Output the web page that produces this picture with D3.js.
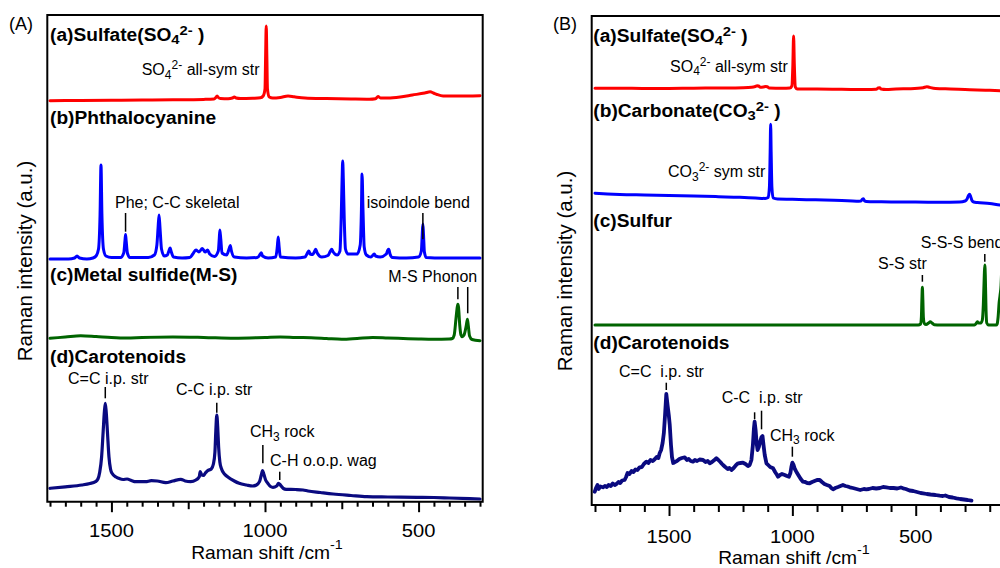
<!DOCTYPE html>
<html><head><meta charset="utf-8">
<script src="https://cdn.jsdelivr.net/npm/d3@7"></script>
<style>
body{margin:0;background:#fff}
svg{display:block;font-family:"Liberation Sans",Arial,Helvetica,sans-serif}
text{white-space:pre}
</style>
</head><body>
<svg id="c" width="1000" height="568"></svg>
<script>
// ---------------- DATA (Raman shift cm-1, intensity a.u.) ----------------
// Panel A
const sulfateA = [[1700,0.3],[1650,0.5],[1600,0.6],[1500,0.8],[1400,1],[1300,1.2],[1200,1.6],[1166,2],[1160,3.5],[1156,5],[1152,3.5],[1145,2.5],[1120,2.3],[1106,3],[1100,4],[1094,3],[1080,2.5],[1040,2.8],[1015,3.2],[1006,5],[1000,12],[998,45],[996,75],[994,45],[992,12],[986,4],[975,3],[950,3.6],[925,5],[905,4.2],[870,3],[800,2.4],[720,2],[660,1.8],[640,2.3],[632,4.5],[624,3],[600,3],[560,4],[520,6],[480,8],[462,9.2],[452,8],[440,6.5],[420,5],[380,5],[340,5],[300,5.2]];
const phthaloA = [[1700,0],[1640,0],[1620,1],[1612,3],[1604,1],[1580,0],[1560,1],[1550,3],[1542,10],[1537,45],[1534,94],[1531,45],[1526,10],[1518,3],[1500,1.5],[1470,1.5],[1460,6],[1456,18],[1454,24.5],[1452,18],[1448,6],[1440,1.5],[1380,1.5],[1360,4],[1352,14],[1348,32],[1345,44],[1342,32],[1337,10],[1328,3],[1318,4],[1312,9],[1309,11],[1305,7],[1298,2],[1270,1],[1245,1.5],[1235,5],[1225,9],[1215,7],[1204,10.5],[1195,7],[1187,9],[1180,5],[1165,2.5],[1152,8],[1149,20],[1147,29],[1144,20],[1140,6],[1125,4],[1116,11],[1113,13.5],[1110,9],[1100,2],[1060,1],[1025,1.5],[1016,4.5],[1012,6.3],[1008,3],[990,1],[965,2],[960,12],[957,22],[954,12],[950,2],[900,1],[870,2],[860,7],[857,8],[853,5],[845,4.5],[838,8],[835,9.7],[830,6],[815,2],[795,3.5],[787,8],[783,9.7],[778,7],[765,4],[756,8],[752,40],[749,80],[747,98],[745,80],[742,40],[738,10],[730,5],[700,5],[690,14],[686,50],[684,85],[681,50],[677,12],[670,4],[655,2],[648,4],[644,5],[640,3],[625,2],[605,5],[600,9],[597,9.7],[593,5],[585,1.5],[540,1],[500,2],[491,8],[488,25],[486,35],[484,25],[481,7],[475,1.5],[420,1],[380,1],[300,1]];
const metalSulfideA = [[1700,1.7],[1650,3],[1600,4.3],[1550,3.5],[1500,2.5],[1450,2],[1400,2.5],[1300,3],[1200,2.5],[1100,1.7],[1000,2.5],[950,3],[900,2.5],[850,2.3],[800,1.5],[750,0.7],[700,1.5],[650,2.5],[600,2],[550,1.5],[500,1],[450,0.7],[400,1],[390,1.5],[384,5],[378,22],[374,33],[372,35.7],[370,33],[366,15],[362,5],[358,3.3],[352,5],[345,14],[341,20.7],[338,14],[334,4],[326,0.5],[300,-0.7]];
const carotenoidsA = [[1700,13.7],[1650,15.2],[1596,17],[1570,18.5],[1552,20.3],[1544,23],[1538,30],[1532,45],[1527,70],[1523,90],[1520,98.7],[1517,90],[1513,70],[1508,45],[1503,33],[1498,28.7],[1485,25],[1476,23.7],[1462,22.5],[1449,23],[1435,21.5],[1421,20.3],[1389,20.3],[1370,21.3],[1351,21],[1323,19.3],[1300,21],[1274,22.7],[1260,21],[1242,20.3],[1225,22],[1214,25.3],[1211,30.3],[1206,27],[1201,26.5],[1194,29],[1187,31.3],[1175,33],[1168,38],[1163,50],[1160,72],[1157,87],[1154,75],[1151,55],[1147,40],[1142,33.5],[1132,28],[1122,25.3],[1100,21],[1084,18.7],[1060,17],[1040,16],[1028,17],[1018,20.3],[1012,27],[1008,31.3],[1004,28],[998,22],[991,18.7],[982,15.5],[974,14.7],[962,16],[956,18.7],[950,17],[940,13.5],[931,12.7],[900,12.5],[876,12],[860,11],[820,9.5],[778,8],[720,6.5],[669,5.3],[600,5],[505,4.7],[450,4.5],[400,4],[300,3]];
const offsetsA = [401, 243, 162, 0];

// Panel B
const sulfateB = [[1800,1.7],[1700,1.8],[1600,1.5],[1500,1.6],[1400,1.8],[1300,2],[1200,2.3],[1165,2.7],[1150,3.5],[1143,4.2],[1137,4],[1130,2.8],[1118,3],[1108,3.5],[1102,3.3],[1095,2],[1040,1.8],[1010,2],[1002,4],[998,25],[995,54],[992,25],[988,3],[980,1],[950,1],[900,1],[800,0.7],[700,0.5],[660,0.8],[652,2],[646,2.2],[640,1],[620,0.5],[580,1],[520,1.3],[470,2.3],[455,3.3],[445,2.7],[420,1.5],[360,1],[300,0.5],[250,0],[200,-0.3],[158,-0.7],[100,-1.5]];
const carbonateB = [[1800,8.7],[1750,8],[1700,7.5],[1600,7],[1500,6.5],[1400,6],[1300,5.3],[1213,4.7],[1150,4],[1110,3.6],[1098,4.5],[1093,15],[1090,50],[1088,77.7],[1086,50],[1083,15],[1078,4],[1060,3],[1000,2.7],[943,2.3],[870,2],[800,1.5],[740,0.8],[722,1],[716,2.8],[712,3.2],[708,1.2],[700,0.5],[650,0.2],[600,0],[500,0],[400,-0.3],[322,0],[300,1],[292,3],[286,6.5],[282,7.7],[278,6],[272,1.5],[265,0],[250,-0.5],[200,-1.5],[159,-3],[100,-4]];
const sulfurB = [[1800,0],[1400,0],[1000,0],[600,0],[490,0],[480,1],[477,8],[475,25],[473,37.7],[471,25],[469,8],[465,1.5],[458,0.5],[448,2],[441,3.3],[434,2],[425,0.3],[400,0],[300,0],[262,0],[255,1.5],[250,3.3],[246,2],[236,2],[230,5],[226,20],[222,50],[220,60],[218,50],[215,15],[212,2],[205,0],[190,0],[174,0],[170,1],[166,8],[162,22],[158,30],[154,40],[150,70],[146,120],[143,90],[139,30],[134,5],[125,0],[100,0]];
const carotenoidsB = [[1801,13.3],[1796,17],[1790,20],[1785,16],[1778,18.5],[1768,17.7],[1760,19],[1752,18],[1745,20],[1736,19],[1728,21.5],[1720,20],[1713,21],[1705,23],[1698,22],[1690,24.5],[1680,25],[1674,28],[1668,32],[1660,31],[1652,34],[1644,33],[1636,35.5],[1628,35],[1619,37.7],[1610,38],[1602,41],[1592,43.3],[1584,42],[1575,45],[1566,44],[1558,45.7],[1550,48],[1543,47],[1538,51.7],[1532,55],[1526,62],[1521,71.7],[1516,90],[1511,111],[1506,100],[1501,90],[1497,80],[1492,60],[1488,48],[1483,42],[1476,43],[1468,44],[1458,46],[1448,47],[1436,47.7],[1428,45],[1420,46],[1412,44],[1403,43.3],[1395,45],[1386,44],[1376,45.5],[1362,45],[1352,43],[1343,44],[1335,41.7],[1326,43],[1316,45],[1308,46.7],[1300,45],[1292,43],[1285,41],[1281,40],[1272,38],[1262,36],[1255,37],[1247,35],[1238,37],[1228,40],[1220,41.7],[1210,42],[1200,42.3],[1190,41],[1180,39],[1173,40],[1166,45],[1160,60],[1156,76],[1153,83.3],[1149,75],[1145,62],[1141,55],[1136,58],[1130,64],[1125,68],[1121,69],[1117,60],[1112,50],[1105,41.7],[1098,40],[1090,38],[1078,36.7],[1070,33],[1062,30],[1058,28.3],[1050,30],[1042,31],[1031,30],[1022,29],[1014,28.3],[1008,32],[1004,38],[1000,42.3],[995,40],[990,36],[984,33.3],[976,30],[966,26],[957,23.3],[948,23],[940,22],[930,21.7],[920,23],[910,24],[900,25],[889,25],[880,23],[870,21],[860,20],[849,19],[842,17],[835,15.7],[826,17],[815,18],[805,19],[795,20],[785,19],[776,18.5],[767,17.7],[755,17],[740,16],[725,15],[710,16],[700,15.7],[690,16],[675,17],[660,16.5],[645,17],[632,18],[619,17.7],[605,17],[590,17],[575,16.5],[560,17.5],[551,16.7],[540,16],[525,14.5],[510,14],[495,13],[480,12],[470,11.7],[455,11],[440,10.5],[420,10],[403,9.3],[390,9],[380,9.5],[365,8],[350,7.5],[335,6.7],[320,6],[305,5.5],[290,5],[274,4.3]];
const offsetsB = [415, 303, 180, 0];

const colors = ["#ff0000", "#0000ff", "#006400", "#0a0a80"];
const tickLabels = ["1500", "1000", "500"];

// ---------------- DRAWING ----------------
const svg = d3.select("#c");
svg.append("rect").attr("width",1000).attr("height",568).attr("fill","#fff");

function rich(g, x, y, segs, o) {
  o = Object.assign({size:16, weight:"normal", sx:1, anchor:"start", subSize:12, subDy:3.5, supDy:-5, rotate:0}, o||{});
  const t = g.append("text")
    .attr("transform", `translate(${x},${y}) rotate(${o.rotate}) scale(${o.sx},1)`)
    .attr("font-size", o.size).attr("font-weight", o.weight)
    .attr("text-anchor", o.anchor).attr("fill", "#000");
  let cur = 0;
  segs.forEach(s => {
    const seg = (typeof s === "string") ? {t:s} : s;
    const target = seg.sub ? o.subDy : seg.sup ? o.supDy : 0;
    const ts = t.append("tspan").text(seg.t);
    if (target - cur !== 0) ts.attr("dy", target - cur);
    if (seg.sub || seg.sup) ts.attr("font-size", o.subSize);
    cur = target;
  });
  return t;
}

function panel(cfg) {
  const g = svg.append("g");
  const x = d3.scaleLinear().domain(cfg.xDomain).range(cfg.xRange);
  const y = d3.scaleLinear().domain(cfg.yDomain).range(cfg.yRange);
  cfg.series.forEach((s, i) => {
    const line = d3.line().x(d => x(d[0])).y(d => y(d[1] + cfg.offsets[i]))
      .curve(cfg.curves[i]);
    g.append("path").datum(s).attr("d", line).attr("fill","none")
      .attr("stroke", colors[i]).attr("stroke-width", cfg.widths[i])
      .attr("stroke-linejoin","round").attr("stroke-linecap","round");
  });
  const f = cfg.frame;
  g.append("path").attr("d", cfg.frameRight
      ? `M${f.l},${f.b}V${f.t}H${f.r}V${f.b}Z`
      : `M${f.r},${f.t}H${f.l}V${f.b}H${f.r}`)
    .attr("fill","none").attr("stroke","#000").attr("stroke-width",2);
  [[cfg.minor, cfg.tickLen[0]], [cfg.mid, cfg.tickLen[1]], [cfg.major, cfg.tickLen[2]]].forEach(([vals, len]) => {
    if (!vals.length) return;
    const ax = g.append("g").attr("transform", `translate(0,${f.b})`)
      .call(d3.axisBottom(x).tickValues(vals).tickSize(len).tickFormat(""));
    ax.select(".domain").remove();
    ax.selectAll(".tick line").attr("stroke","#000").attr("stroke-width",2);
  });
  cfg.major.forEach((v, i) => {
    rich(g, x(v), cfg.tickLabelY, [tickLabels[i]], {size:18, sx:1.12, anchor:"middle"});
  });
  rich(g, cfg.xTitle[0], cfg.xTitle[1], ["Raman shift /cm", {t:"-1", sup:true}],
       {size:17.5, sx:1.1, anchor:"middle", subSize:13, supDy:-10});
  rich(g, cfg.yTitle[0], cfg.yTitle[1], ["Raman intensity (a.u.)"],
       {size:20.5, anchor:"middle", rotate:-90});
  rich(g, cfg.letter[0], cfg.letter[1], [cfg.letter[2]], {size:18});
  cfg.titles.forEach(t => rich(g, t[0], t[1], t[2], {size:17.5, weight:"bold", sx:1.095, subSize:13.5, subDy:3.5, supDy:-6}));
  cfg.notes.forEach(t => rich(g, t[0], t[1], t[2], {size:16, subSize:12, subDy:3.5, supDy:-6}));
  cfg.marks.forEach(m => {
    g.append("line").attr("x1", x(m[0])).attr("x2", x(m[0])).attr("y1", m[1]).attr("y2", m[2])
      .attr("stroke","#000").attr("stroke-width",1.5);
  });
}

panel({
  xDomain:[1700,300], xRange:[50,480], yDomain:[0,487], yRange:[502,15],
  series:[sulfateA, phthaloA, metalSulfideA, carotenoidsA], offsets:offsetsA,
  curves:[d3.curveMonotoneX, d3.curveMonotoneX, d3.curveMonotoneX, d3.curveMonotoneX],
  widths:[3,3,3,3.2],
  frame:{l:47.3, r:482.7, t:15, b:501.7}, frameRight:true,
  minor:d3.range(300,1701,50).filter(v=>v%250!==0), mid:[1250,750], major:[1500,1000,500],
  tickLen:[5,7.5,10.5], tickLabelY:537.3,
  xTitle:[267,559], yTitle:[31.7,261], letter:[9,30,"(A)"],
  titles:[
    [50,40.7,["(a)Sulfate(SO",{t:"4",sub:true},{t:"2-",sup:true},{t:" )"}]],
    [50,124,["(b)Phthalocyanine"]],
    [50,281,["(c)Metal sulfide(M-S)"]],
    [50,363.3,["(d)Carotenoids"]]
  ],
  notes:[
    [141.7,75,["SO",{t:"4",sub:true},{t:"2-",sup:true},{t:" all-sym str"}]],
    [115,207.7,["Phe; C-C skeletal"]],
    [366.7,207.7,["isoindole bend"]],
    [388.3,281.7,["M-S Phonon"]],
    [68,384,["C=C i.p. str"]],
    [176,395,["C-C i.p. str"]],
    [250,437,["CH",{t:"3",sub:true},{t:" rock"}]],
    [270,466,["C-H o.o.p. wag"]]
  ],
  marks:[[1454,213,231.7],[486,213,239.3],[372,287,299.3],[340,287,313.3],
         [1520,387,398.3],[1157,402.7,412.7],[1007,445,463.3],[952,471.7,480]]
});

panel({
  xDomain:[1800,100], xRange:[595,1014.4], yDomain:[0,489], yRange:[505,16],
  series:[sulfateB, carbonateB, sulfurB, carotenoidsB], offsets:offsetsB,
  curves:[d3.curveMonotoneX, d3.curveMonotoneX, d3.curveMonotoneX, d3.curveLinear],
  widths:[3,3,3,3.8],
  frame:{l:591.7, r:1020, t:16, b:505}, frameRight:false,
  minor:d3.range(100,1801,100).filter(v=>v%500!==0), mid:[], major:[1500,1000,500],
  tickLen:[7,7,11], tickLabelY:543.3,
  xTitle:[794,564], yTitle:[571.7,271], letter:[553,30,"(B)"],
  titles:[
    [593.3,41.7,["(a)Sulfate(SO",{t:"4",sub:true},{t:"2-",sup:true},{t:" )"}]],
    [593.3,116.7,["(b)Carbonate(CO",{t:"3",sub:true},{t:"2-",sup:true},{t:" )"}]],
    [593.3,226.7,["(c)Sulfur"]],
    [593.3,349,["(d)Carotenoids"]]
  ],
  notes:[
    [670,71.7,["SO",{t:"4",sub:true},{t:"2-",sup:true},{t:" all-sym str"}]],
    [668,177,["CO",{t:"3",sub:true},{t:"2-",sup:true},{t:" sym str"}]],
    [878,269,["S-S str"]],
    [920.7,248.3,["S-S-S bend"]],
    [619,376.7,["C=C  i.p. str"]],
    [721.7,402.7,["C-C  i.p. str"]],
    [770,440.7,["CH",{t:"3",sub:true},{t:" rock"}]]
  ],
  marks:[[473,275,281.7],[220,254,261.7],[1511,382.7,390],[1153,412.3,419.3],[1125,410.7,429.3],[1000,446.7,456.7]]
});
</script>
</body></html>
